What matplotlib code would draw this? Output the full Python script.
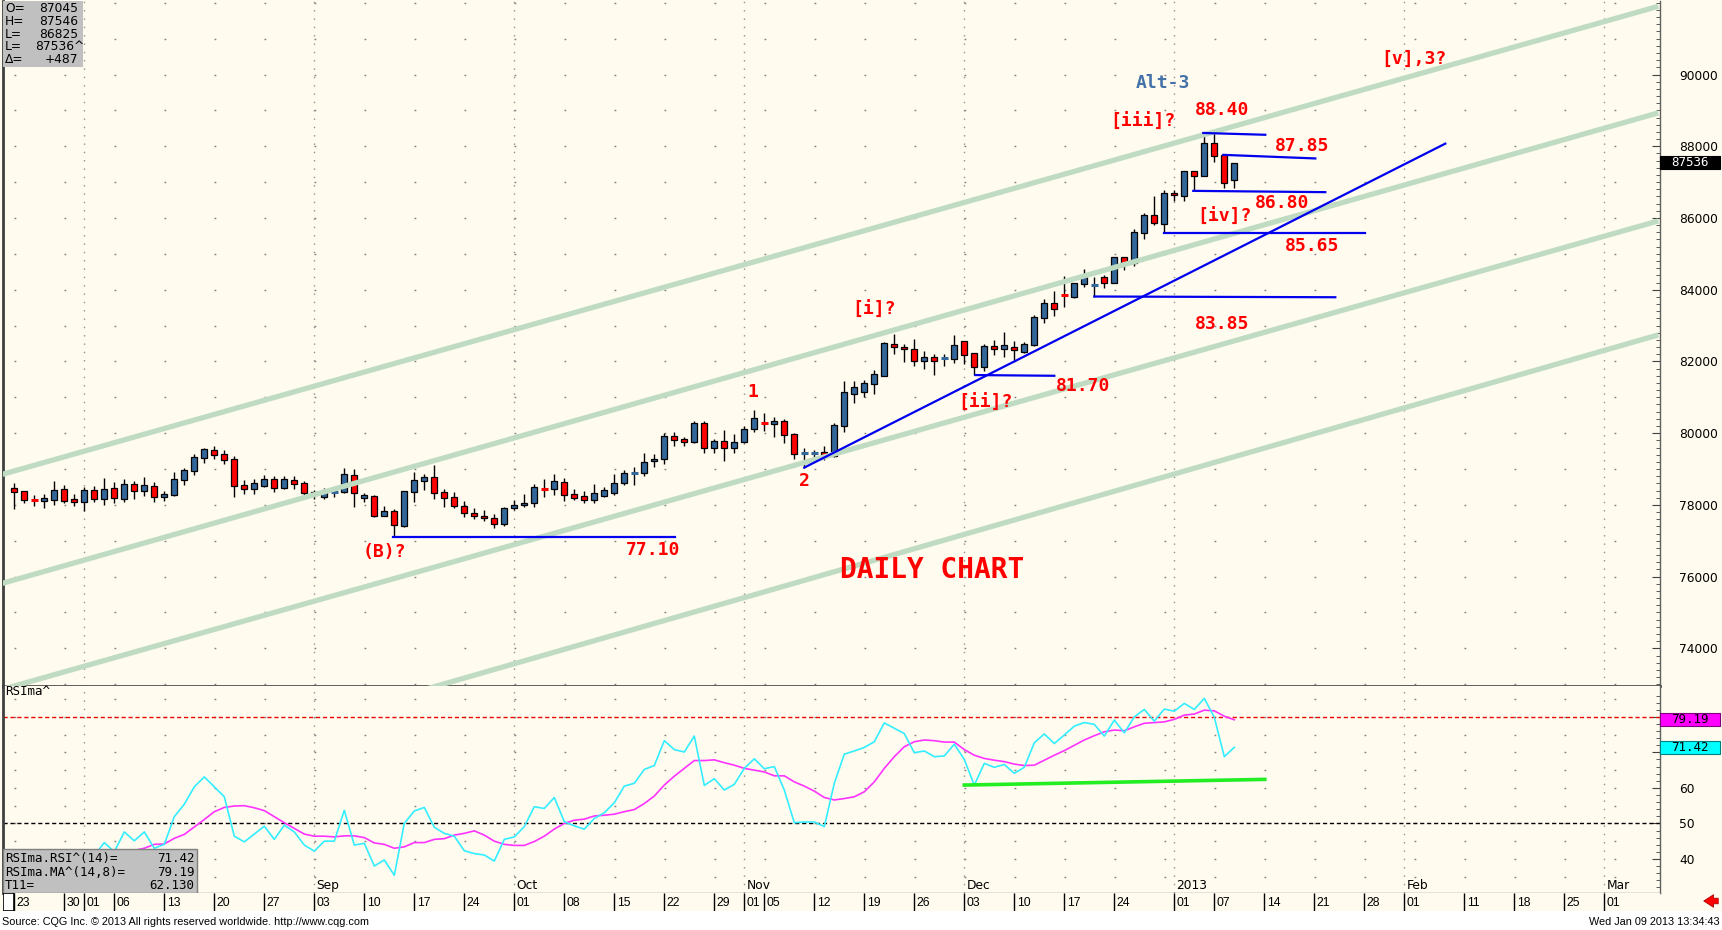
import numpy as np
import matplotlib
matplotlib.use("Agg")
import matplotlib.pyplot as plt
from matplotlib.patches import Rectangle

# ── chart data: trading-day index 0 = Mon 23 Jul 2012 ... 122 = Wed 09 Jan 2013 ──
opens = [78460, 78390, 78150, 78100, 78150, 78430, 78160, 78070, 78410, 78170,
         78460, 78170, 78570, 78380, 78520, 78210, 78270, 78690, 78950, 79300,
         79520, 79410, 79270, 78550, 78430, 78530, 78710, 78460, 78690, 78600,
         78350, 78210, 78350, 78350, 78820, 78180, 78240, 77700, 77830, 77410,
         78350, 78660, 78780, 78350, 78210, 77980, 77760, 77700, 77640, 77480,
         77900, 78000, 78060, 78470, 78440, 78630, 78300, 78240, 78140, 78260,
         78340, 78600, 78890, 78880, 79210, 79270, 79910, 79830, 79740, 80280,
         79580, 79770, 79580, 79750, 80110, 80280, 80250, 80330, 79970, 79440,
         79440, 79470, 79350, 80200, 81100, 81160, 81360, 81600, 82480, 82410,
         82360, 82000, 82120, 82070, 82060, 82560, 82240, 81850, 82420, 82340,
         82400, 82270, 82450, 83210, 83620, 83880, 83810, 84160, 84090, 84350,
         84180, 84900, 84740, 85580, 86080, 85840, 86710, 86620, 87300, 87160,
         88100, 87760, 87045]
highs = [78620, 78400, 78280, 78300, 78670, 78560, 78300, 78490, 78520, 78740,
         78630, 78710, 78670, 78780, 78650, 78400, 78930, 79040, 79410, 79580,
         79630, 79530, 79360, 78690, 78710, 78830, 78810, 78810, 78810, 78670,
         78420, 78460, 78510, 79020, 78990, 78330, 78270, 77970, 77880, 78400,
         78930, 78860, 79110, 78430, 78350, 78100, 77900, 77850, 77750, 77950,
         78150, 78300, 78580, 78710, 78850, 78740, 78440, 78400, 78580, 78510,
         78860, 78970, 79070, 79460, 79420, 80000, 80020, 79900, 80330, 80330,
         79830, 80080, 79970, 80190, 80650, 80550, 80440, 80400, 80000, 79580,
         79530, 79630, 80290, 81460, 81450, 81480, 81760, 82530, 82760, 82480,
         82620, 82290, 82200, 82210, 82730, 82560, 82240, 82480, 82590, 82820,
         82560, 82540, 83290, 83750, 83950, 84370, 84180, 84570, 84350, 84410,
         84910, 84910, 85700, 86150, 86600, 86770, 86770, 87310, 87310, 88400,
         88400, 87780, 87546]
lows = [77880, 78040, 77970, 77920, 78000, 78060, 77970, 77840, 78070, 78010,
        78060, 78090, 78170, 78240, 78090, 78100, 78240, 78550, 78830, 79170,
        79270, 79150, 78230, 78290, 78300, 78510, 78370, 78430, 78430, 78200,
        78160, 78170, 78230, 78320, 77950, 78090, 77650, 77680, 77100, 77390,
        78090, 78420, 78170, 77950, 77900, 77650, 77600, 77550, 77350, 77400,
        77850, 77950, 77950, 78230, 78280, 78100, 78140, 78050, 78050, 78210,
        78280, 78550, 78550, 78810, 79070, 79140, 79630, 79630, 79720, 79440,
        79460, 79210, 79460, 79720, 80040, 80070, 79890, 79720, 79270, 79040,
        79300, 79250, 79330, 80040, 80830, 81020, 81080, 81580, 82200, 81980,
        81870, 81780, 81610, 81870, 81970, 81920, 81610, 81730, 82170, 82120,
        82030, 82230, 82430, 83060, 83270, 83530, 83760, 84070, 83810, 84040,
        84180, 84550, 84670, 85410, 85800, 85590, 86460, 86460, 86740, 87160,
        87560, 86830, 86825]
closes = [78350, 78130, 78130, 78180, 78410, 78100, 78070, 78410, 78170, 78430,
          78190, 78570, 78380, 78560, 78210, 78290, 78710, 78960, 79330, 79550,
          79380, 79240, 78520, 78430, 78600, 78710, 78470, 78710, 78570, 78320,
          78280, 78370, 78360, 78850, 78340, 78270, 77690, 77830, 77430, 78380,
          78690, 78780, 78320, 78180, 77980, 77760, 77700, 77640, 77480, 77900,
          78000, 78060, 78490, 78455, 78670, 78280, 78190, 78140, 78320, 78420,
          78600, 78880, 78900, 79190, 79290, 79910, 79800, 79740, 80280, 79580,
          79770, 79580, 79750, 80110, 80420, 80270, 80330, 79940, 79410, 79450,
          79450, 79360, 80220, 81140, 81280, 81390, 81640, 82510, 82400, 82340,
          82000, 82120, 82000, 82090, 82450, 82170, 81850, 82420, 82340, 82450,
          82310, 82480, 83230, 83620, 83460, 83860, 84180, 84350, 84120, 84180,
          84900, 84720, 85600, 86080, 85850, 86710, 86630, 87300, 87160, 88100,
          87720, 86970, 87536]

rsi = [38, 37, 36, 37, 40, 38, 37, 40, 41,
       44.6, 42.0, 47.6, 45.1, 47.6, 43.0, 44.1, 51.9, 55.4, 60.3, 63.1,
       60.3, 57.5, 46.4, 44.8, 47.0, 49.2, 45.5, 49.5, 47.6, 43.9,
       42.2, 45.0, 45.0, 53.7, 43.9, 44.4, 38.0, 39.7, 35.4, 50.0,
       53.5, 54.5, 48.9, 47.2, 46.4, 42.3, 41.5, 41.1, 39.4, 45.5,
       46.2, 49.1, 54.7, 54.2, 57.3, 50.5, 49.3, 48.4, 51.4, 53.0,
       55.8, 60.5, 61.3, 65.2, 66.3, 73.3, 70.8, 70.1, 74.6, 60.7,
       62.6, 59.4, 61.0, 65.5, 68.2, 65.4, 66.0, 59.4, 50.2, 50.4,
       50.4, 49.1, 61.3, 69.5, 70.4, 71.4, 73.0, 78.3, 76.8, 75.3,
       69.9, 70.4, 68.8, 69.0, 72.3, 68.0, 60.8, 66.9, 65.8, 66.6,
       64.1, 65.8, 72.7, 75.2, 72.5, 74.9, 77.4, 78.4, 77.9, 74.6,
       79.1, 75.5, 80.0, 82.1, 78.8, 82.2, 81.6, 83.8, 82.1, 85.2,
       79.9, 68.8, 71.42]
rsi_ma = [40, 39.5, 39, 38.8, 38.7, 39, 39.3, 39.8, 40.3, 40.8, 41.3, 41.8, 42.4,
          43.0, 44.1, 44.2, 45.8, 46.9, 49.0, 51.1, 53.3, 54.5, 54.9,
          55.0, 54.4, 53.6, 51.9, 50.2, 48.6, 47.0, 46.4, 46.4, 46.2,
          46.5, 46.5, 46.0, 44.5, 44.1, 43.0, 43.4, 44.6, 44.6, 45.5,
          45.7, 46.7, 47.2, 47.9, 46.7, 45.0, 44.1, 43.8, 43.8, 44.9,
          46.4, 48.4, 50.0, 50.9, 51.2, 52.1, 52.3, 52.6, 53.3, 53.9,
          55.6, 57.7, 60.8, 63.3, 65.5, 67.7, 67.7, 67.9, 67.1, 66.4,
          65.5, 65.0, 64.5, 63.4, 63.4, 61.7, 60.5, 59.1, 57.3, 56.6,
          57.0, 57.5, 58.9, 61.7, 65.5, 68.8, 71.6, 73.0, 73.5, 73.3,
          72.9, 72.9, 70.8, 69.2, 68.3, 67.8, 67.4, 66.7, 66.3, 66.4,
          67.8, 69.2, 70.5, 72.0, 73.5, 74.7, 75.8, 76.3, 76.1, 77.2,
          78.2, 78.4, 78.6, 79.3, 80.5, 80.8, 81.9, 81.7, 80.2, 79.19]

# parallel channel (green), given as two end points in (day, price)
chan_x = [-1.43, 164.4]
chan_a = [78834, 91902]
chan_b = [75794, 88931]
chan_c = [72837, 85918]
chan_d = [69450, 82740]

# analyst's blue lines: (x0, x1, y0, y1)
blue_lines = [(37.9, 66.1, 77100, 77100),
              (79.0, 143.1, 79040, 88073),
              (96.1, 104.0, 81620, 81600),
              (108.0, 132.1, 83810, 83790),
              (115.0, 135.1, 85595, 85595),
              (117.9, 131.1, 86756, 86720),
              (120.9, 130.1, 87760, 87660),
              (118.9, 125.1, 88370, 88320)]

# red wave labels: text, day, price
wave_labels = [("[v],3?", 140.0, 90438), ("88.40", 120.8, 89013),
               ("[iii]?", 112.9, 88680), ("87.85", 128.8, 88011),
               ("86.80", 126.8, 86421), ("[iv]?", 121.0, 86031),
               ("85.65", 129.8, 85222), ("83.85", 120.8, 83046),
               ("[i]?", 86.0, 83437), ("[ii]?", 97.1, 80843),
               ("81.70", 106.9, 81303), ("1", 73.9, 81149),
               ("2", 79.0, 78666), ("(B)?", 37.0, 76685),
               ("77.10", 63.9, 76740)]

rsi_support_x = [95.0, 125.05]
rsi_support_y = [60.8, 62.4]

date_idx = [0, 5, 7, 10, 15, 20, 25, 30, 35, 40, 45, 50, 55, 60, 65, 70, 73,
            75, 80, 85, 90, 95, 100, 105, 110, 116, 120, 125, 130, 135, 139,
            145, 150, 155, 159]
date_txt = ["23", "30", "01", "06", "13", "20", "27", "03", "10", "17", "24",
            "01", "08", "15", "22", "29", "01", "05", "12", "19", "26", "03",
            "10", "17", "24", "01", "07", "14", "21", "28", "01", "11", "18",
            "25", "01"]
month_idx = [7, 30, 50, 73, 95, 116, 139, 159]
month_txt = ["", "Sep", "Oct", "Nov", "Dec", "2013", "Feb", "Mar"]

CREAM = "#fffbef"
BLUE = "#336699"
RED = "#ff0000"
GREEN = "#bfdcc3"
LINEBLUE = "#0000ee"
XMIN, XMAX = -1.13, 164.57

W, H = 1722, 930
fig = plt.figure(figsize=(W / 100, H / 100), dpi=100, facecolor=CREAM)
ax = fig.add_axes([3 / W, 1 - 686 / H, 1657 / W, 685 / H], facecolor=CREAM)
axr = fig.add_axes([3 / W, 1 - 893 / H, 1657 / W, 207 / H], facecolor=CREAM)
axd = fig.add_axes([3 / W, 1 - 911 / H, 1657 / W, 18 / H], facecolor=CREAM)
fig.patches.append(Rectangle((0, 0), 1, 1 - 911 / H, transform=fig.transFigure,
                             facecolor="white", edgecolor="none", zorder=0))

sans = "DejaVu Sans"
mono = "DejaVu Sans Mono"


def value_box(axis, yval, text, face, edge, fg):
    # coloured last-value tag sitting on the right-hand price scale
    tr = axis.get_yaxis_transform()
    y_disp = tr.transform((1.0, yval))[1]
    y_fig = y_disp / H
    fig.patches.append(Rectangle((1660 / W, y_fig - 6.5 / H), 60 / W, 13 / H,
                                 transform=fig.transFigure, facecolor=face,
                                 edgecolor=edge, lw=0.8, zorder=10))
    fig.text(1690 / W, y_fig, text, color=fg, fontsize=9, family=mono,
             ha="center", va="center", zorder=11)


# ── price panel ───────────────────────────────────────────
ax.set_xlim(XMIN, XMAX)
ax.set_ylim(72950, 92050)
ax.hlines(np.arange(73000, 92001, 1000), 0, XMAX, colors="#808080", lw=1,
          linestyles=(0, (1.3, 34.7)), zorder=1)
ax.vlines(month_idx, 72950, 92050, colors="#909090", lw=1,
          linestyles=(0, (1, 5)), zorder=1)

o = np.array(opens, float); hi = np.array(highs, float)
lo = np.array(lows, float); c = np.array(closes, float)
x = np.arange(len(o))
b_lo = np.minimum(o, c); b_hi = np.maximum(o, c)
cols = np.where(c >= o, BLUE, RED)
doji = (b_hi - b_lo) < 40
ax.vlines(x, lo, hi, colors="black", lw=1.0, zorder=2)
ax.bar(x[~doji], (b_hi - b_lo)[~doji], bottom=b_lo[~doji], width=0.58,
       color=cols[~doji], edgecolor="black", linewidth=0.9, zorder=3)
ax.hlines(c[doji], x[doji] - 0.32, x[doji] + 0.32, colors=cols[doji],
          lw=2.2, zorder=3)

for yy in (chan_a, chan_b, chan_c, chan_d):
    ax.plot(chan_x, yy, color=GREEN, lw=3.8, solid_capstyle="butt", zorder=4)
for x0, x1, y0, y1 in blue_lines:
    ax.plot([x0, x1], [y0, y1], color=LINEBLUE, lw=1.6, zorder=5)

for txt, xx, yy in wave_labels:
    ax.text(xx, yy, txt, color=RED, fontsize=13, family=mono,
            fontweight="bold", ha="center", va="center", zorder=6)
ax.text(114.9, 89766, "Alt-3", color="#4472a8", fontsize=13, family=mono,
        fontweight="bold", ha="center", va="center", zorder=6)
ax.text(91.8, 76182, "DAILY CHART", color=RED, fontsize=20, family=mono,
        fontweight="bold", ha="center", va="center", zorder=6)

ax.yaxis.tick_right()
ax.set_yticks(np.arange(74000, 90001, 2000))
ax.set_yticks(np.arange(73000, 92001, 200), minor=True)
ax.set_yticklabels([str(v) for v in range(74000, 90001, 2000)],
                   fontsize=8.8, family=sans)
ax.tick_params(axis="y", which="major", direction="in", length=6, pad=14,
               color="#404040")
ax.tick_params(axis="y", which="minor", direction="in", length=3,
               color="#404040")
ax.set_xticks([])
ax.spines["top"].set_visible(False)
ax.spines["left"].set(color="#404040", lw=2)
ax.spines["right"].set(color="#606060", lw=1)
ax.spines["bottom"].set(color="#505050", lw=2)

# OHLC info box (top left)
ax.add_patch(Rectangle((0, 0.9036), 0.0483, 0.0964, transform=ax.transAxes,
                       facecolor="#c0c0c0", edgecolor="none", zorder=8))
info_l = ["O=", "H=", "L=", "L=", "\u0394="]
info_v = ["87045", "87546", "86825", "87536^", "+487"]
for k, (a, b) in enumerate(zip(info_l, info_v)):
    yy = 1 - (7.5 + 12.8 * k) / 685
    ax.text(0.0012, yy, a, transform=ax.transAxes, fontsize=8.8, family=sans,
            ha="left", va="center", zorder=9)
    ax.text(0.0455 if b[-1] != "^" else 0.0493, yy, b, transform=ax.transAxes,
            fontsize=8.8, family=sans, ha="right", va="center", zorder=9)

# ── RSI panel ─────────────────────────────────────────────
axr.set_xlim(XMIN, XMAX)
axr.set_ylim(30.4, 88.7)
axr.hlines(np.arange(35, 86, 5), 0, XMAX, colors="#808080", lw=1,
           linestyles=(0, (1.3, 34.7)), zorder=1)
axr.vlines(month_idx, 30.4, 88.7, colors="#909090", lw=1,
           linestyles=(0, (1, 5)), zorder=1)
axr.axhline(80, color="#ee0000", lw=1, ls=(0, (3, 2)), zorder=2)
axr.axhline(50, color="black", lw=1, ls=(0, (3, 2)), zorder=2)
axr.plot(x, rsi_ma, color="#ff33ff", lw=1.2, zorder=3)
axr.plot(x, rsi, color="#33eeff", lw=1.2, zorder=4)
axr.plot(rsi_support_x, rsi_support_y, color="#22ee22", lw=2.6, zorder=5)

axr.yaxis.tick_right()
axr.set_yticks([40, 50, 60, 70, 80])
axr.set_yticks(np.arange(32, 88, 2), minor=True)
axr.set_yticklabels(["40", "50", "60", "", ""], fontsize=8.8, family=sans)
axr.tick_params(axis="y", which="major", direction="in", length=6, pad=14,
                color="#404040")
axr.tick_params(axis="y", which="minor", direction="in", length=3,
                color="#404040")
axr.set_xticks([])
axr.spines["top"].set_visible(False)
axr.spines["left"].set(color="#404040", lw=2)
axr.spines["right"].set(color="#606060", lw=1)
axr.spines["bottom"].set(color="#808080", lw=1)

axr.text(0.0012, 0.975, "RSIma^", transform=axr.transAxes, fontsize=9,
         family=mono, ha="left", va="center")

axr.add_patch(Rectangle((0, 0), 0.117, 0.2126, transform=axr.transAxes,
                        facecolor="#c0c0c0", edgecolor="#808080", lw=1,
                        zorder=8))
rs_l = ["RSIma.RSI^(14)=", "RSIma.MA^(14,8)=", "T11="]
rs_v = ["71.42", "79.19", "62.130"]
for k, (a, b) in enumerate(zip(rs_l, rs_v)):
    yy = (893 - (858.3 + 13.7 * k)) / 207
    axr.text(0.0012, yy, a, transform=axr.transAxes, fontsize=9, family=mono,
             ha="left", va="center", zorder=9)
    axr.text(0.1155, yy, b, transform=axr.transAxes, fontsize=9, family=mono,
             ha="right", va="center", zorder=9)

for xi, mt in zip(month_idx, month_txt):
    if mt:
        axr.text(xi + 0.2, 0.035, mt, transform=axr.get_xaxis_transform(),
                 fontsize=8.8, family=sans, ha="left", va="center")

# ── date strip ────────────────────────────────────────────
axd.set_xlim(XMIN, XMAX)
axd.set_ylim(0, 1)
axd.set_xticks([]); axd.set_yticks([])
for s in axd.spines.values():
    s.set_visible(False)
axd.vlines(date_idx, 0, 1, colors="black", lw=1)
for xi, t in zip(date_idx, date_txt):
    axd.text(xi + 0.25, 0.45, t, fontsize=8.8, family="Liberation Sans",
             ha="left", va="center")
axd.add_patch(Rectangle((XMIN + 0.02, 0.0), 1.05, 1.0, facecolor="white",
                        edgecolor="black", lw=1.2, zorder=5))

fig.text(2 / W, 1 - 922 / H, "Source: CQG Inc. \u00a9 2013 All rights reserved "
         "worldwide. http://www.cqg.com", fontsize=7.8,
         family="Liberation Sans", ha="left", va="center")
fig.text(1720 / W, 1 - 922 / H, "Wed Jan 09 2013 13:34:43", fontsize=7.8,
         family="Liberation Sans", ha="right", va="center")
axd.annotate("", xy=(1701, 29), xytext=(1721, 29), xycoords="figure pixels",
             textcoords="figure pixels",
             arrowprops=dict(arrowstyle="simple,head_length=0.7,head_width=0.9,"
                             "tail_width=0.4", fc="red", ec="#aa0000", lw=0.6))

# last-value tags on the right scale
value_box(ax, 87536, "87536", "black", "black", "white")
value_box(axr, 79.19, "79.19", "#ff00ff", "#800080", "black")
value_box(axr, 71.42, "71.42", "#00ffff", "#008080", "black")

fig.savefig("out.png", dpi=100, facecolor=CREAM)
